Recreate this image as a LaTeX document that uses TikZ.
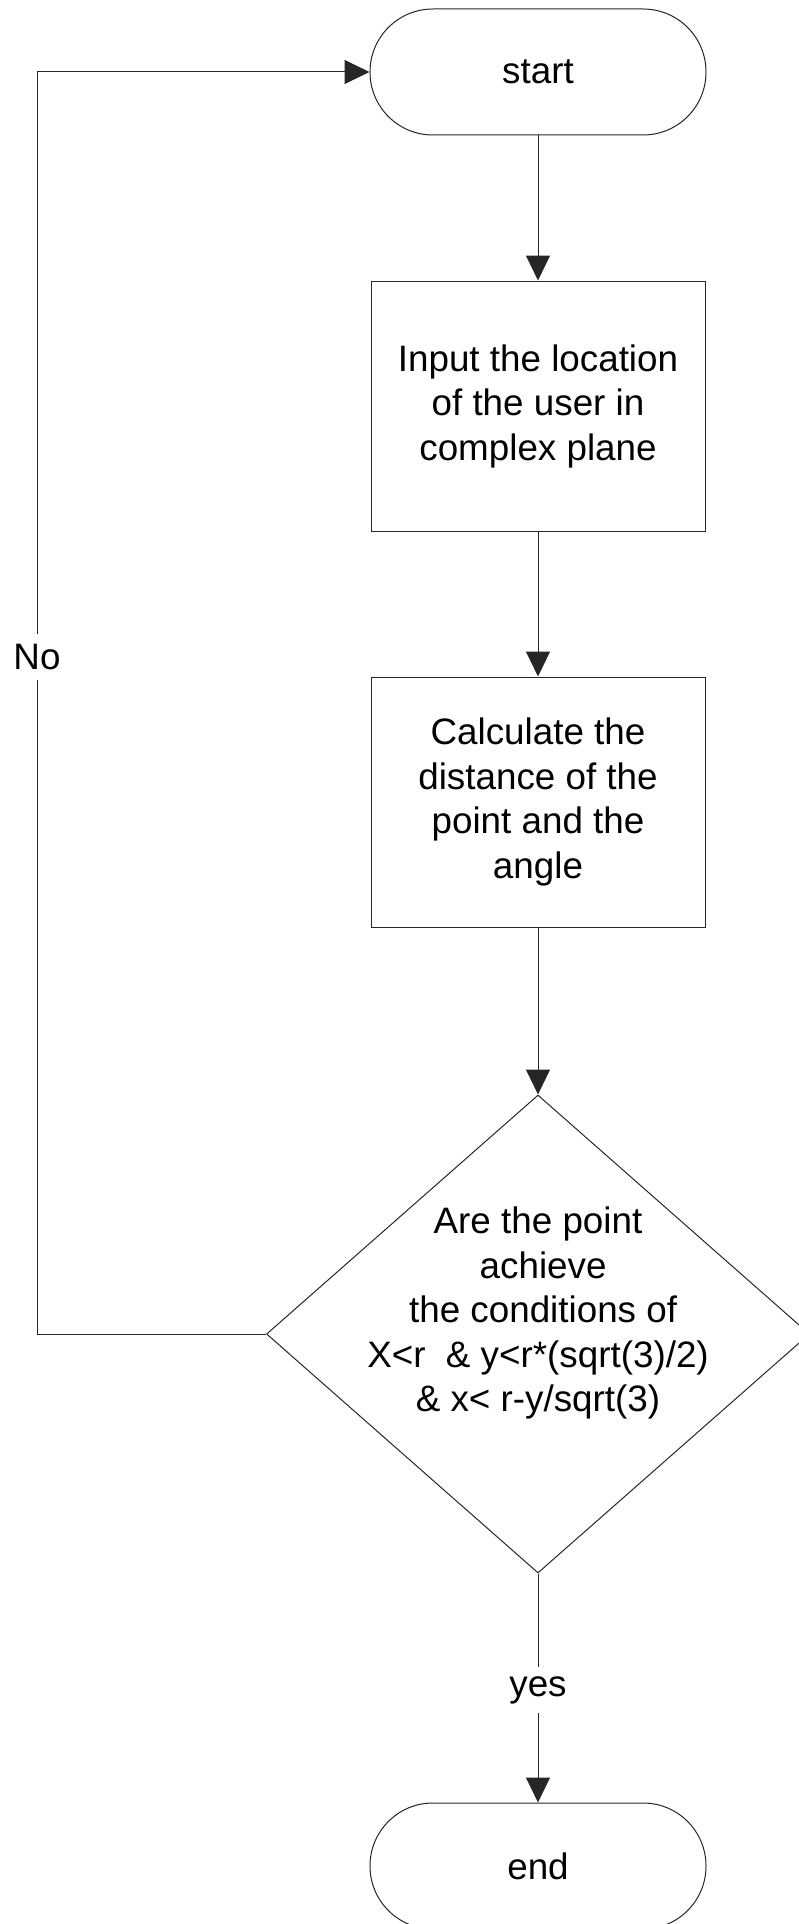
\documentclass[tikz,border=0pt]{standalone}
\usepackage{fontspec}
\setmainfont{Liberation Sans}
\usetikzlibrary{arrows.meta,shapes.geometric}
\begin{document}
\begin{tikzpicture}[x=1pt,y=-1pt,
  line/.style={draw=black!85,line width=1pt},
  arr/.style={line,-{Triangle[length=25pt,width=24pt]}},
  txt/.style={font=\fontsize{36.8}{44.5}\selectfont},
  term/.style={line,txt,rectangle,rounded corners=62.9pt,minimum width=336pt,minimum height=126pt,inner sep=0pt},
  proc/.style={line,txt,rectangle,minimum width=334pt,minimum height=250pt,inner sep=0pt,align=center},
  dec/.style={line,diamond,minimum width=543pt,minimum height=478pt,inner sep=0pt},
  lbl/.style={txt,inner sep=0pt,minimum height=45pt}
]
\useasboundingbox (0,0) rectangle (799,1924);
\node[term] (start) at (538,72) {start};
\node[proc] (input) at (538,406) {Input the location\\of the user in\\complex plane};
\node[proc] (calc) at (538,802) {Calculate the\\distance of the\\point and the\\angle};
\node[dec] (dia) at (538,1334) {};
\node[txt,align=center,inner sep=0pt] (diatext) at (538,1313)
  {Are the point\\\hspace*{0.278em}achieve\\\hspace*{0.278em}the conditions of\\X<r\ \ \& y<r*(sqrt(3)/2)\\\& x< r-y/sqrt(3)};
\node[term] (end) at (538,1866) {end};
\node[lbl] (no) at (37,657) {No};
\node[lbl] (yes) at (538,1690) {yes};

\draw[arr] (start) -- (input);
\draw[arr] (input) -- (calc);
\draw[arr] (calc) -- (dia);
\draw[line] (dia.south) -- (yes.north);
\draw[arr] (yes.south) -- (end.north);
\draw[line] (dia.west) -| (no.south);
\draw[arr] (no.north) |- (start.west);
\end{tikzpicture}
\end{document}
